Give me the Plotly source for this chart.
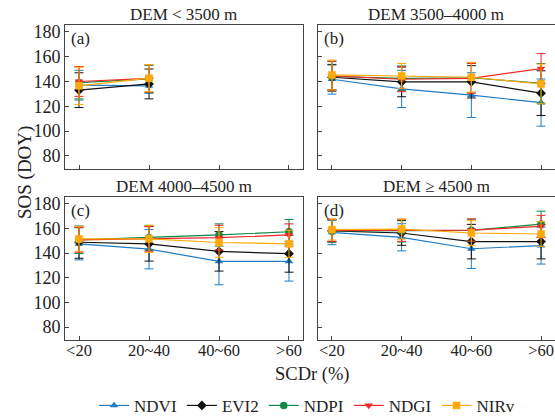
import plotly.graph_objects as go

categories = ["<20", "20~40", "40~60", ">60"]
series = ["NDVI", "EVI2", "NDPI", "NDGI", "NIRv"]
panel_titles = ["DEM < 3500 m", "DEM 3500\u20134000 m", "DEM 4000\u20134500 m", "DEM \u2265 4500 m"]
panel_labels = ["(a)", "(b)", "(c)", "(d)"]
y_ticks = [80, 100, 120, 140, 160, 180]

# mean SOS (DOY) per panel, per series, per SCDr class
a_mean = {"NDVI": [137, 136.5], "EVI2": [133, 138], "NDPI": [139, 142], "NDGI": [140, 142.5], "NIRv": [136.5, 142.7]}
a_sd = {"NDVI": [12, 6], "EVI2": [14, 12], "NDPI": [13, 11], "NDGI": [12, 11], "NIRv": [15, 11]}
b_mean = {"NDVI": [141.8, 134, 129, 123], "EVI2": [143.4, 139.7, 139.7, 130.6], "NDPI": [144, 142.5, 143, 138.5],
          "NDGI": [144.5, 141.8, 142.5, 150.4], "NIRv": [145.3, 144.5, 143.4, 138]}
b_sd = {"NDVI": [12, 15, 18, 19], "EVI2": [10, 12, 13, 18], "NDPI": [12, 10, 12, 16],
        "NDGI": [12, 10, 12, 12], "NIRv": [12, 10, 12, 16]}
c_mean = {"NDVI": [147.5, 143.2, 133.3, 133.3], "EVI2": [148.8, 147.5, 141.4, 139.5], "NDPI": [150.7, 152.5, 154.7, 157.3],
          "NDGI": [150.7, 151.5, 152.5, 154.7], "NIRv": [151.5, 151.5, 148.6, 147.5]}
c_sd = {"NDVI": [13, 16, 19, 16], "EVI2": [13, 14, 16, 15], "NDPI": [11, 10, 9, 10],
        "NDGI": [10, 10, 10, 9], "NIRv": [10, 11, 12, 11]}
d_mean = {"NDVI": [156.8, 152.8, 143.5, 146.1], "EVI2": [158, 156.3, 149.3, 149.3], "NDPI": [158, 158, 158.5, 163.5],
          "NDGI": [158.5, 158.5, 158.7, 161.6], "NIRv": [159, 159.5, 156.3, 155.5]}
d_sd = {"NDVI": [10, 11, 16, 15], "EVI2": [9, 10, 14, 14], "NDPI": [9, 9, 9, 10.5],
        "NDGI": [9, 9, 9, 9], "NIRv": [8.5, 8, 10, 10]}

panels = [(a_mean, a_sd), (b_mean, b_sd), (c_mean, c_sd), (d_mean, d_sd)]

colors = {"NDVI": "#1f7bc4", "EVI2": "#111111", "NDPI": "#0a8a44", "NDGI": "#f02828", "NIRv": "#ffaa0a"}
symbols = {"NDVI": "triangle-up", "EVI2": "diamond", "NDPI": "circle", "NDGI": "triangle-down", "NIRv": "square"}

FONT = "Liberation Serif, Times New Roman, serif"
TXT = "#222222"
fig = go.Figure()

for i, (mean, sd) in enumerate(panels):
    ax = "" if i == 0 else str(i + 1)
    for s in series:
        n = len(mean[s])
        fig.add_trace(go.Scatter(
            x=categories[:n], y=mean[s], name=s, mode="lines+markers",
            xaxis="x" + ax, yaxis="y" + ax,
            line=dict(color=colors[s], width=1.2),
            marker=dict(symbol=symbols[s], size=7.5, color=colors[s]),
            error_y=dict(type="data", array=sd[s], visible=True, color=colors[s], thickness=1, width=4.5),
            showlegend=(i == 0),
        ))

L = 0.4857
R0 = 0.5163
Ytop = 0.5429
Ybot = 0.454
dom_x = [[0, L], [R0, 1], [0, L], [R0, 1]]
dom_y = [[Ytop, 1], [Ytop, 1], [0, Ybot], [0, Ybot]]
frame = "#444444"
layout = {}
for i in range(4):
    key = "" if i == 0 else str(i + 1)
    layout["xaxis" + key] = dict(
        domain=dom_x[i], anchor="y" + key, type="category", categoryorder="array",
        categoryarray=categories, range=[-0.2, 3.2], showgrid=False, zeroline=False,
        showline=True, mirror=True, linecolor=frame, linewidth=1, automargin=False,
        ticks="inside", ticklen=4, tickcolor=frame, showticklabels=(i >= 2),
        ticklabelstandoff=-5,
        tickfont=dict(family=FONT, size=16.5, color=TXT),
    )
    layout["yaxis" + key] = dict(
        domain=dom_y[i], anchor="x" + key, range=[69.5, 185.5], tickvals=y_ticks,
        showgrid=False, zeroline=False, showline=True, mirror=True, linecolor=frame, linewidth=1,
        automargin=False,
        ticks="inside", ticklen=4, tickcolor=frame, showticklabels=(i % 2 == 0),
        tickfont=dict(family=FONT, size=18, color=TXT),
    )

annotations = []
for i in range(4):
    xc = (dom_x[i][0] + dom_x[i][1]) / 2
    annotations.append(dict(text=panel_titles[i], xref="paper", yref="paper", x=xc, y=dom_y[i][1],
                            yanchor="bottom", xanchor="center", yshift=-1, showarrow=False,
                            font=dict(family=FONT, size=17, color=TXT)))
    annotations.append(dict(text=panel_labels[i], xref="paper", yref="paper", x=dom_x[i][0], y=dom_y[i][1],
                            xanchor="left", yanchor="top", xshift=4, yshift=-2, showarrow=False,
                            font=dict(family=FONT, size=17, color=TXT)))
annotations.append(dict(text="SOS (DOY)", xref="paper", yref="paper", x=0, y=0.53, xanchor="center",
                        yanchor="middle", xshift=-40, textangle=-90, showarrow=False,
                        font=dict(family=FONT, size=19, color=TXT)))
annotations.append(dict(text="SCDr (%)", xref="paper", yref="paper", x=0.506, y=0, xanchor="center",
                        yanchor="middle", yshift=-34, showarrow=False,
                        font=dict(family=FONT, size=18.5, color=TXT)))

fig.update_layout(
    width=555, height=417, margin=dict(l=65, r=0, t=25, b=77, autoexpand=False),
    paper_bgcolor="white", plot_bgcolor="white",
    annotations=annotations,
    legend=dict(orientation="h", x=0.494, xanchor="center", y=-0.152, yanchor="top",
                font=dict(family=FONT, size=17, color=TXT), tracegroupgap=0,
                bgcolor="rgba(0,0,0,0)"),
    **layout,
)

fig.write_html("out.html", config={"displayModeBar": False},
               post_script="document.body.style.margin='0';")
